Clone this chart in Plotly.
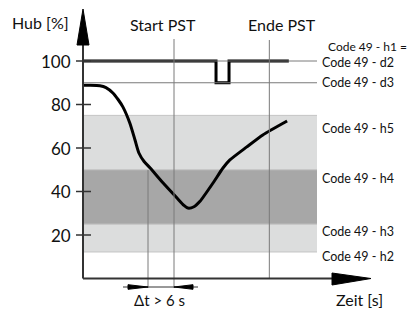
import plotly.graph_objects as go

# ---- data (time in s, stroke in %) ----
curve_t = [0, 1.6, 3.9, 5.3, 6.9, 8.1, 9.2, 10.8, 12.0, 12.9, 14.1, 15.5, 18.5, 21.7, 23.3, 24.2, 25.6, 27.0, 30.0, 32.3, 33.9, 37.8, 41.5, 47.1]
curve_h = [88.8, 88.8, 88.6, 87.8, 85.3, 82.3, 78.9, 71.5, 63.7, 57.7, 53.8, 50.8, 43.9, 37.0, 33.6, 32.4, 33.0, 35.5, 43.9, 50.8, 54.5, 60.5, 66.0, 72.4]

step_t = [0, 30.7, 30.7, 33.7, 33.7, 47.5]
step_h = [100, 100, 90, 90, 100, 100]

d2 = 100
d3 = 90
h5 = 75
h4_top = 50
h3 = 25
h2 = 12.2
band_end = 54

t_test = 15
t_start = 21
t_end = 43

y_ticks = [20, 40, 60, 80, 100]

right_labels = ["Code 49 - h1 =", "Code 49 - d2", "Code 49 - d3", "Code 49 - h5", "Code 49 - h4", "Code 49 - h3", "Code 49 - h2"]
right_label_y = [106.5, 99.3, 90.1, 69.0, 46.1, 21.8, 10.3]

# ---- pixel scales (page pixels) ----
PX_T = 26 / 6.0      # px per second
PX_H = 2.175         # px per %
X0 = 83              # axis origin x px
Y0 = 278.5           # axis origin y px (from top)
W, H = 415, 310
OFF = 8              # page body margin

def tx(px):
    return (px - X0) / PX_T

def hy(py):
    return (Y0 - py) / PX_H

FONT = "Lato"
TXT = "#111111"
GRAY = "#7a7a7a"
LIGHT = "#dcdddd"
DARK = "#a7a7a7"

fig = go.Figure()
shapes = []

# bands
shapes.append(dict(type="rect", x0=0, x1=band_end, y0=h2, y1=h5, fillcolor=LIGHT, line=dict(width=0), layer="below"))
shapes.append(dict(type="rect", x0=0, x1=band_end, y0=h3, y1=h4_top, fillcolor=DARK, line=dict(width=0), layer="below"))
for yy in [h2, h3, h4_top, h5]:
    shapes.append(dict(type="line", x0=0, x1=band_end, y0=yy, y1=yy, line=dict(color="#c4c4c4", width=1), layer="below"))

# thin reference lines
for yy in [d2, d3]:
    shapes.append(dict(type="line", x0=0, x1=band_end, y0=yy, y1=yy, line=dict(color=GRAY, width=1)))

# vertical lines
shapes.append(dict(type="line", x0=t_test, x1=t_test, y0=hy(170), y1=hy(288), line=dict(color=GRAY, width=1)))
shapes.append(dict(type="line", x0=t_start, x1=t_start, y0=hy(39), y1=hy(288), line=dict(color=GRAY, width=1)))
shapes.append(dict(type="line", x0=t_end, x1=t_end, y0=hy(40), y1=0, line=dict(color=GRAY, width=1)))

# axes
shapes.append(dict(type="line", x0=0, x1=0, y0=0, y1=hy(45), line=dict(color="#333333", width=2)))
shapes.append(dict(type="line", x0=0, x1=tx(332), y0=0, y1=0, line=dict(color="#333333", width=2)))
# y arrow head
shapes.append(dict(type="path", path=f"M {tx(77)},{hy(45)} L {tx(89)},{hy(45)} L 0,{hy(9)} Z",
                   fillcolor="black", line=dict(color="black", width=1)))
# x arrow head
shapes.append(dict(type="path", path=f"M {tx(332)},{hy(273)} L {tx(332)},{hy(285)} L {tx(371)},0 Z",
                   fillcolor="black", line=dict(color="black", width=1)))
# y ticks
for v in y_ticks:
    shapes.append(dict(type="line", x0=tx(76), x1=tx(91), y0=v, y1=v, line=dict(color="#333333", width=1.5)))

# delta t arrows
ya = hy(287)
hh = 2.3 / PX_H
shapes.append(dict(type="line", x0=tx(123), x1=tx(198), y0=ya, y1=ya, line=dict(color="#333333", width=1)))
shapes.append(dict(type="path", path=f"M {tx(128)},{ya + hh} L {tx(128)},{ya - hh} L {t_test},{ya} Z",
                   fillcolor="black", line=dict(color="black", width=1)))
shapes.append(dict(type="path", path=f"M {tx(193)},{ya + hh} L {tx(193)},{ya - hh} L {t_start},{ya} Z",
                   fillcolor="black", line=dict(color="black", width=1)))

# traces
fig.add_trace(go.Scatter(x=step_t, y=step_h, mode="lines", line=dict(color="black", width=3), hoverinfo="skip"))
fig.add_trace(go.Scatter(x=curve_t, y=curve_h, mode="lines", line=dict(color="black", width=3, shape="spline", smoothing=0.6), hoverinfo="skip"))

ann = []
for v in y_ticks:
    ann.append(dict(x=tx(73), y=v, text=str(v), showarrow=False, xanchor="right", yanchor="middle",
                    font=dict(family=FONT, size=17, color=TXT)))
ann.append(dict(x=tx(71), y=hy(22), text="Hub [%]", showarrow=False, xanchor="right", yanchor="middle",
                font=dict(family=FONT, size=16, color=TXT)))
ann.append(dict(x=tx(163), y=hy(24), text="Start PST", showarrow=False, xanchor="center", yanchor="middle",
                font=dict(family=FONT, size=16, color=TXT)))
ann.append(dict(x=tx(282), y=hy(24), text="Ende PST", showarrow=False, xanchor="center", yanchor="middle",
                font=dict(family=FONT, size=16, color=TXT)))
ann.append(dict(x=tx(359), y=hy(299), text="Zeit [s]", showarrow=False, xanchor="center", yanchor="middle",
                font=dict(family=FONT, size=16, color=TXT)))
ann.append(dict(x=tx(159), y=hy(300), text="Δt > 6 s", showarrow=False, xanchor="center", yanchor="middle",
                font=dict(family=FONT, size=15, color=TXT)))
for i, (lab, yv) in enumerate(zip(right_labels, right_label_y)):
    xpx = 326 if i == 0 else 320
    ann.append(dict(x=tx(xpx), y=yv, text=lab, showarrow=False, xanchor="left", yanchor="middle",
                    font=dict(family=FONT, size=12 if i == 0 else 12.5, color=TXT)))

fig.update_layout(
    width=W - OFF, height=H - OFF,
    margin=dict(l=0, r=0, t=0, b=0),
    paper_bgcolor="white", plot_bgcolor="white",
    showlegend=False,
    xaxis=dict(range=[tx(OFF), tx(W)], visible=False, fixedrange=True),
    yaxis=dict(range=[hy(H), hy(OFF)], visible=False, fixedrange=True),
    shapes=shapes,
    annotations=ann,
)

fig.write_html("out.html")
